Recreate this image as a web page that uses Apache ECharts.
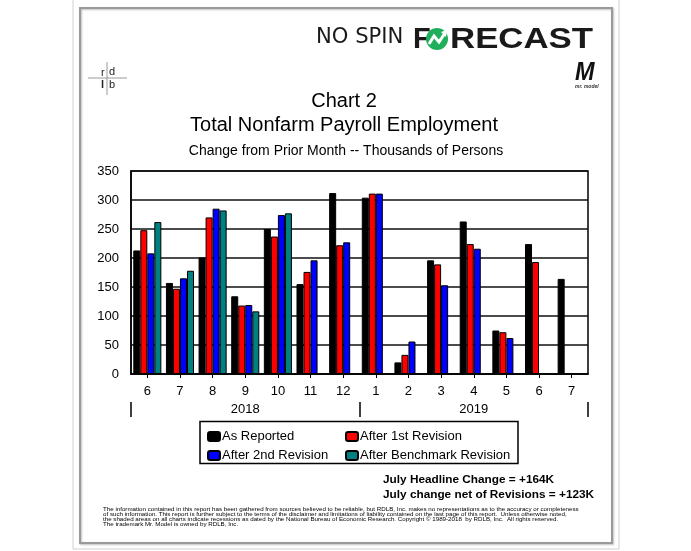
<!DOCTYPE html>
<html><head><meta charset="utf-8">
<script src="https://cdn.jsdelivr.net/npm/echarts@6/dist/echarts.min.js"></script>
<style>html,body{margin:0;padding:0;background:#fff}#c{width:691px;height:551px}</style>
</head><body><div id="c"></div>
<script>
// ---- data ----
const months = ['6','7','8','9','10','11','12','1','2','3','4','5','6','7'];
const years = ['2018','2019'];
const seriesNames = ['As Reported','After 1st Revision','After 2nd Revision','After Benchmark Revision'];
const asReported = [213,157,201,134,250,155,312,304,20,196,263,75,224,164];
const after1st   = [248,147,270,118,237,176,222,311,33,189,224,72,193,null];
const after2nd   = [208,165,285,119,274,196,227,311,56,153,216,62,null,null];
const afterBench = [262,178,282,108,277,null,null,null,null,null,null,null,null,null];
const yMin = 0, yMax = 350, yStep = 50;
const titleLines = ['Chart 2','Total Nonfarm Payroll Employment','Change from Prior Month -- Thousands of Persons'];
const noteLines = ['July Headline Change = +164K','July change net of Revisions = +123K'];
const disclaimer = [
 'The information contained in this report has been gathered from sources believed to be reliable, but RDLB, Inc. makes no representations as to the accuracy or completeness',
 'of such information. This report is further subject to the terms of the disclaimer and limitations of liability contained on the last page of this report.  Unless otherwise noted,',
 'the shaded areas on all charts indicate recessions as dated by the National Bureau of Economic Research. Copyright \u00a9 1989-2018  by RDLB, Inc.  All rights reserved.',
 'The trademark Mr. Model is owned by RDLB, Inc.'
];
const colors = ['#000000','#ff0000','#0000ff','#008080'];
const FONT = 'Liberation Sans, Arial, sans-serif';

const chart = echarts.init(document.getElementById('c'), null, {renderer:'canvas'});
const values = [asReported, after1st, after2nd, afterBench];

const option = {
  animation: false,
  backgroundColor: '#fff',
  textStyle: {fontFamily: FONT},
  title: [
    {text: titleLines[0], left: 339, top: 86, textAlign: 'center', textStyle:{fontFamily:FONT, fontSize:20, fontWeight:'normal', color:'#000'}},
    {text: titleLines[1], left: 339, top: 110, textAlign: 'center', textStyle:{fontFamily:FONT, fontSize:20, fontWeight:'normal', color:'#000'}},
    {text: titleLines[2], left: 341, top: 139, textAlign: 'center', textStyle:{fontFamily:FONT, fontSize:14, fontWeight:'normal', color:'#000'}}
  ],
  grid: {left:131, right:103, top:171, bottom:177, show:true, borderColor:'#000', borderWidth:1.5, backgroundColor:'transparent'},
  legend: [
    {data:[seriesNames[0], seriesNames[2]], orient:'vertical', left:202, top:425, itemWidth:12, itemHeight:9, itemGap:6,
     textStyle:{fontFamily:FONT, fontSize:13, color:'#000', padding:[0,0,0,-3]}},
    {data:[seriesNames[1], seriesNames[3]], orient:'vertical', left:340, top:425, itemWidth:12, itemHeight:9, itemGap:6,
     textStyle:{fontFamily:FONT, fontSize:13, color:'#000', padding:[0,0,0,-3]}}
  ],
  xAxis: [
    {type:'category', data: months, position:'bottom',
     axisLine:{show:true, lineStyle:{color:'#000', width:1.5}},
     axisTick:{show:true, alignWithLabel:true, length:4, lineStyle:{color:'#000', width:1}},
     axisLabel:{color:'#000', fontSize:13, fontFamily:FONT, margin:11},
     splitLine:{show:false}},
    {type:'category', data: years, position:'bottom', offset:28, gridIndex:0,
     axisLine:{show:false},
     axisTick:{show:true, length:15, lineStyle:{color:'#000', width:1.5}},
     axisLabel:{color:'#000', fontSize:13, fontFamily:FONT, margin:1},
     splitLine:{show:false}}
  ],
  yAxis: {type:'value', min:yMin, max:yMax, interval:yStep,
    axisLine:{show:true, lineStyle:{color:'#000', width:1.5}},
    axisTick:{show:false},
    axisLabel:{color:'#000', fontSize:13, fontFamily:FONT, margin:12},
    splitLine:{show:true, lineStyle:{color:'#111', width:1.5}}},
  series: seriesNames.map((n,i)=>({
    name:n, type:'bar', xAxisIndex:0, data: values[i],
    barGap:'0%', barCategoryGap:'14%',
    itemStyle:{color:colors[i], borderColor:'#000', borderWidth:1}
  })),
  graphic: [
    // frames
    {type:'rect', shape:{x:73, y:-2, width:546, height:551}, style:{fill:'none', stroke:'#d0d0d0', lineWidth:1}, silent:true},
    {type:'rect', shape:{x:80, y:8, width:532, height:535}, style:{fill:'none', stroke:'#9a9a9a', lineWidth:2, shadowColor:'rgba(0,0,0,0.25)', shadowBlur:2, shadowOffsetX:1, shadowOffsetY:1}, silent:true},
    // legend box
    {type:'rect', shape:{x:200, y:421.5, width:318, height:42}, style:{fill:'none', stroke:'#000', lineWidth:1.5}, z:-1, silent:true},
    // header logo
    {type:'text', x:316, y:26, style:{text:'NO SPIN', fontFamily:'DejaVu Sans, sans-serif', fontSize:22, fontWeight:'normal', fill:'#1a1a1a'}, scaleX:0.96},
    {type:'text', x:413, y:25, style:{text:'F', fontFamily:FONT, fontSize:29, fontWeight:'bold', fill:'#1a1a1a'}},
    {type:'circle', shape:{cx:437, cy:39, r:11}, style:{fill:'#1fae5a'}},
    {type:'polyline', shape:{points:[[429,44],[434,36],[439,42],[445,33]]}, style:{stroke:'#fff', lineWidth:3, fill:'none'}},
    {type:'polygon', shape:{points:[[441,32],[447,30],[446,37]]}, style:{fill:'#fff'}},
    {type:'text', x:450, y:25, style:{text:'RECAST', fontFamily:FONT, fontSize:29, fontWeight:'bold', fill:'#1a1a1a'}, scaleX:1.2},
    // rdlb logo
    {type:'line', shape:{x1:88, y1:78, x2:127, y2:78}, style:{stroke:'#999', lineWidth:1}},
    {type:'line', shape:{x1:107, y1:62, x2:107, y2:95}, style:{stroke:'#999', lineWidth:1}},
    {type:'text', x:101, y:67, style:{text:'r', fontFamily:FONT, fontSize:11, fill:'#222'}},
    {type:'text', x:109, y:66, style:{text:'d', fontFamily:FONT, fontSize:11, fill:'#222'}},
    {type:'text', x:101, y:79, style:{text:'l', fontFamily:FONT, fontSize:11, fontWeight:'bold', fill:'#222'}},
    {type:'text', x:109, y:79, style:{text:'b', fontFamily:FONT, fontSize:11, fill:'#222'}},
    // Mr. Model logo
    {type:'text', x:575, y:60, style:{text:'M', fontFamily:FONT, fontSize:26, fontWeight:'bold', fontStyle:'italic', fill:'#111'}, scaleX:0.9},
    {type:'text', x:575, y:84, style:{text:'mr. model', fontFamily:FONT, fontSize:5, fontStyle:'italic', fontWeight:'bold', fill:'#333'}},
    // notes
    {type:'text', x:383, y:474, style:{text:noteLines[0], fontFamily:FONT, fontSize:11.8, fontWeight:'bold', fill:'#000'}},
    {type:'text', x:383, y:489, style:{text:noteLines[1], fontFamily:FONT, fontSize:11.8, fontWeight:'bold', fill:'#000'}},
    // disclaimer
    {type:'text', x:103, y:507, style:{text:disclaimer.join('\n'), fontFamily:FONT, fontSize:6.2, lineHeight:5, fill:'#000'}}
  ]
};
chart.setOption(option);
</script></body></html>
